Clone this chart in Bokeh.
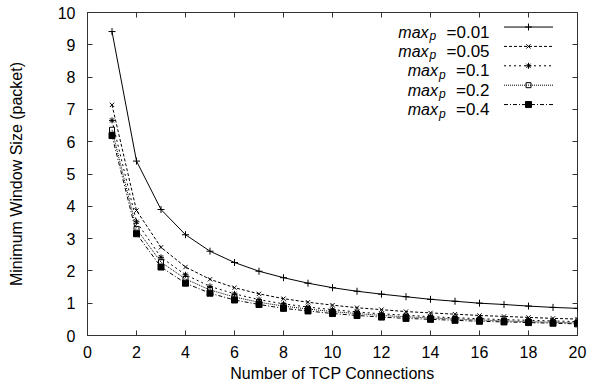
from bokeh.plotting import figure
from bokeh.models import (Range1d, FixedTicker, LinearAxis, ColumnDataSource,
                          CustomLabelingPolicy)
from bokeh.core.properties import value
from bokeh.embed import file_html
from bokeh.resources import INLINE

# ---- data ----
connections = list(range(1, 21))
win_001 = [9.41, 5.40, 3.90, 3.12, 2.61, 2.26, 1.99, 1.79, 1.62, 1.48,
           1.37, 1.28, 1.20, 1.12, 1.06, 1.00, 0.96, 0.91, 0.87, 0.84]
win_005 = [7.14, 3.87, 2.73, 2.12, 1.74, 1.48, 1.29, 1.14, 1.03, 0.94,
           0.86, 0.80, 0.74, 0.70, 0.66, 0.62, 0.59, 0.56, 0.53, 0.51]
win_01 = [6.66, 3.52, 2.42, 1.88, 1.52, 1.29, 1.11, 0.98, 0.88, 0.80,
          0.73, 0.67, 0.63, 0.58, 0.55, 0.52, 0.49, 0.47, 0.45, 0.43]
win_02 = [6.37, 3.30, 2.27, 1.75, 1.41, 1.19, 1.03, 0.91, 0.82, 0.74,
          0.68, 0.62, 0.58, 0.54, 0.51, 0.48, 0.45, 0.43, 0.41, 0.39]
win_04 = [6.19, 3.15, 2.12, 1.62, 1.31, 1.10, 0.96, 0.84, 0.76, 0.68,
          0.62, 0.57, 0.53, 0.50, 0.47, 0.44, 0.42, 0.40, 0.38, 0.36]
labels = ["=0.01", "=0.05", "=0.1", "=0.2", "=0.4"]
x_ticks = list(range(0, 21, 2))
y_ticks = list(range(0, 11))

series = [win_001, win_005, win_01, win_02, win_04]
styles = [
    dict(dash="solid", marker="cross", fill=False, size=7),
    dict(dash="3 2", marker="x", fill=False, size=6),
    dict(dash="2 3", marker="asterisk", fill=False, size=6),
    dict(dash="1 1", marker="square", fill=False, size=5),
    dict(dash="4 2 1 2", marker="square", fill=True, size=6),
]

FONT = "Liberation Sans"
EDGE = "#333333"

p = figure(width=610, height=387, output_backend="svg", toolbar_location=None,
           x_range=Range1d(0, 20), y_range=Range1d(0, 10),
           min_border_left=87, min_border_right=33, min_border_top=12,
           min_border_bottom=52)
p.grid.visible = False
p.outline_line_color = EDGE
p.outline_line_width = 1
p.background_fill_color = "white"
p.border_fill_color = "white"

for ax in (p.xaxis[0], p.yaxis[0]):
    ax.major_tick_in = 5
    ax.major_tick_out = 0
    ax.minor_tick_in = 0
    ax.minor_tick_out = 0
    ax.axis_line_color = EDGE
    ax.major_tick_line_color = EDGE
    ax.major_label_text_font = FONT
    ax.major_label_text_font_size = "16px"
    ax.major_label_text_color = "black"
    ax.axis_label_text_font = FONT
    ax.axis_label_text_font_size = "16px"
    ax.axis_label_text_font_style = "normal"
    ax.axis_label_text_color = "black"

p.xaxis.ticker = FixedTicker(ticks=x_ticks)
p.yaxis.ticker = FixedTicker(ticks=y_ticks)
p.xaxis.axis_label = "Number of TCP Connections"
p.yaxis.axis_label = "Minimum Window Size (packet)"
p.xaxis.major_label_standoff = 10
p.xaxis.axis_label_standoff = 4
p.yaxis.major_label_standoff = 12
p.yaxis.axis_label_standoff = 30

# mirror ticks (no labels)
hide_all = "for (const i of indices) { indices.unset(i) } return indices"
top = LinearAxis(ticker=FixedTicker(ticks=x_ticks), major_tick_in=5, major_tick_out=0,
                 minor_tick_in=0, minor_tick_out=0,
                 major_label_policy=CustomLabelingPolicy(code=hide_all),
                 major_label_standoff=0, axis_line_color=None,
                 major_tick_line_color=EDGE)
right = LinearAxis(ticker=FixedTicker(ticks=y_ticks), major_tick_in=5, major_tick_out=0,
                   minor_tick_in=0, minor_tick_out=0,
                   major_label_policy=CustomLabelingPolicy(code=hide_all),
                   major_label_standoff=0, axis_line_color=None,
                   major_tick_line_color=EDGE)
p.add_layout(top, "above")
p.add_layout(right, "right")

for ys, st in zip(series, styles):
    src = ColumnDataSource(dict(x=connections, y=ys))
    p.line("x", "y", source=src, line_color="black", line_width=1, line_dash=st["dash"])
    p.scatter("x", "y", source=src, marker=st["marker"], size=st["size"],
              line_color="black", line_width=1,
              fill_color="black" if st["fill"] else None)

# ---- legend (drawn manually, gnuplot style) ----
char_w = {"=": 0.584, ".": 0.278}
def text_width(s, px):
    return sum(char_w.get(c, 0.556) for c in s) * px

leg_text_x = 16.41
leg_line_x0, leg_line_x1, leg_mark_x = 17.0, 19.0, 18.0
leg_y0, leg_dy = 9.55, 0.6
for i, (lab, st) in enumerate(zip(labels, styles)):
    yy = leg_y0 - i * leg_dy
    w = text_width(lab, 17)
    p.line([leg_line_x0, leg_line_x1], [yy, yy], line_color="black", line_width=1,
           line_dash=st["dash"])
    p.scatter([leg_mark_x], [yy], marker=st["marker"], size=st["size"],
              line_color="black", line_width=1,
              fill_color="black" if st["fill"] else None)
    p.text([leg_text_x], [yy], text=[lab], text_align="right", text_baseline="alphabetic",
           y_offset=5, text_font=value(FONT), text_font_size="17px", text_color="black")
    p.text([leg_text_x], [yy], text=["p"], text_align="left", text_baseline="alphabetic",
           x_offset=-(w + 17), y_offset=9, text_font=value(FONT), text_font_size="12px",
           text_font_style="italic", text_color="black")
    p.text([leg_text_x], [yy], text=["max"], text_align="right", text_baseline="alphabetic",
           x_offset=-(w + 18), y_offset=5, text_font=value(FONT), text_font_size="16px",
           text_font_style="italic", text_color="black")

open("out.html", "w").write(file_html(p, INLINE))
